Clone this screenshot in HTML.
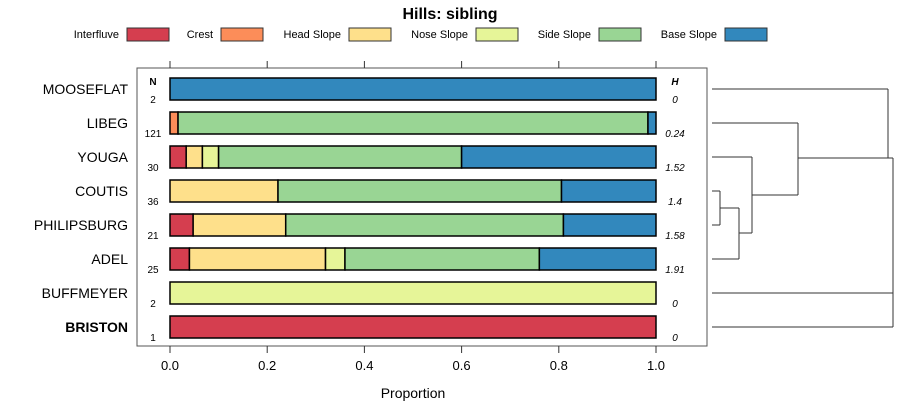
<!DOCTYPE html>
<html><head><meta charset="utf-8"><style>
body{margin:0;background:#fff;}
svg{display:block;font-family:"Liberation Sans",sans-serif;}
</style></head><body>
<svg id="chart" width="900" height="420" xmlns="http://www.w3.org/2000/svg">
<text x="450" y="19" text-anchor="middle" font-size="16" font-weight="bold">Hills: sibling</text>
<g id="legend"></g>
<rect x="137" y="68" width="570" height="278" fill="none" stroke="#555" stroke-width="1"/>
<g id="bars"></g>
<g id="axis"></g>
<g id="dendro" stroke="#333" stroke-width="1" fill="none"></g>
<text x="413" y="398" text-anchor="middle" font-size="14">Proportion</text>
<text x="153" y="85" text-anchor="middle" font-size="10" font-weight="bold">N</text>
<text x="675" y="85" text-anchor="middle" font-size="10" font-weight="bold" font-style="italic">H</text>
</svg>
<script>
const categories = ["MOOSEFLAT","LIBEG","YOUGA","COUTIS","PHILIPSBURG","ADEL","BUFFMEYER","BRISTON"];
const classes = ["Interfluve","Crest","Head Slope","Nose Slope","Side Slope","Base Slope"];
const interfluve = [0, 0, 1/30, 0, 1/21, 1/25, 0, 1];
const crest = [0, 2/121, 0, 0, 0, 0, 0, 0];
const headSlope = [0, 0, 1/30, 8/36, 4/21, 7/25, 0, 0];
const noseSlope = [0, 0, 1/30, 0, 0, 1/25, 1, 0];
const sideSlope = [0, 117/121, 15/30, 21/36, 12/21, 10/25, 0, 0];
const baseSlope = [1, 2/121, 12/30, 7/36, 4/21, 6/25, 0, 0];
const nValues = ["2","121","30","36","21","25","2","1"];
const hValues = ["0","0.24","1.52","1.4","1.58","1.91","0","0"];
const ticks = [0, 0.2, 0.4, 0.6, 0.8, 1.0];
const tickLabels = ["0.0","0.2","0.4","0.6","0.8","1.0"];

const colors = ["#D53E4F","#FC8D59","#FEE08B","#E6F598","#99D594","#3288BD"];
const series = [interfluve, crest, headSlope, noseSlope, sideSlope, baseSlope];
const NS = "http://www.w3.org/2000/svg";
const xS = v => 170 + v * 486;
const yS = i => 89 + i * 34;
function mk(tag, attrs, parent){const e=document.createElementNS(NS,tag);for(const k in attrs)e.setAttribute(k,attrs[k]);parent.appendChild(e);return e;}

const bars = document.getElementById("bars");
categories.forEach((c, i) => {
  const cy = yS(i);
  let cum = 0;
  series.forEach((s, k) => {
    const v = s[i];
    if (v > 0) {
      const r = mk("rect", {x: xS(cum), y: cy - 11, width: xS(cum + v) - xS(cum), height: 22, fill: colors[k], stroke: "#000", "stroke-width": 1.5}, bars);
      
      
    }
    cum += v;
  });
  const lab = mk("text", {x: 128, y: cy + 5, "text-anchor": "end", "font-size": 14, "font-weight": c === "BRISTON" ? "bold" : "normal"}, bars);
  lab.textContent = c;
  
  
  const nt = mk("text", {x: 153, y: cy + 14, "text-anchor": "middle", "font-size": 10}, bars);
  nt.textContent = nValues[i];
  
  
  const ht = mk("text", {x: 675, y: cy + 14, "text-anchor": "middle", "font-size": 10, "font-style": "italic"}, bars);
  ht.textContent = hValues[i];
  
  
});

const axis = document.getElementById("axis");
ticks.forEach((t, i) => {
  const x = xS(t);
  const a = mk("line", {x1: x, x2: x, y1: 61, y2: 68, stroke: "#333"}, axis);
  
  
  const b = mk("line", {x1: x, x2: x, y1: 346, y2: 353, stroke: "#333"}, axis);
  
  
  const tl = mk("text", {x: x, y: 370, "text-anchor": "middle", "font-size": 13}, axis);
  tl.textContent = tickLabels[i];
  
  
});

const legend = document.getElementById("legend");
const legBoxX = [127, 221, 349, 476, 599, 725];
classes.forEach((c, k) => {
  const t = mk("text", {x: legBoxX[k] - 8, y: 38, "text-anchor": "end", "font-size": 11}, legend);
  t.textContent = c;
  
  
  const r = mk("rect", {x: legBoxX[k], y: 28, width: 42, height: 13, fill: colors[k], stroke: "#333"}, legend);
  
  
});

const d = document.getElementById("dendro");
const segs = [
  [712,89,888,89],[712,123,798,123],[712,157,752,157],[712,191,720,191],[712,225,720,225],
  [720,191,720,225],[720,208,739,208],[712,259,739,259],[739,208,739,259],[739,233,752,233],
  [752,157,752,233],[752,195,798,195],[798,123,798,195],[798,158,888,158],[888,89,888,158],
  [888,158,893,158],[712,293,893,293],[712,327,893,327],[893,158,893,327]
];
segs.forEach(s => {
  const l = mk("line", {x1: s[0], y1: s[1], x2: s[2], y2: s[3]}, d);
  
  
});
</script>
</body></html>
